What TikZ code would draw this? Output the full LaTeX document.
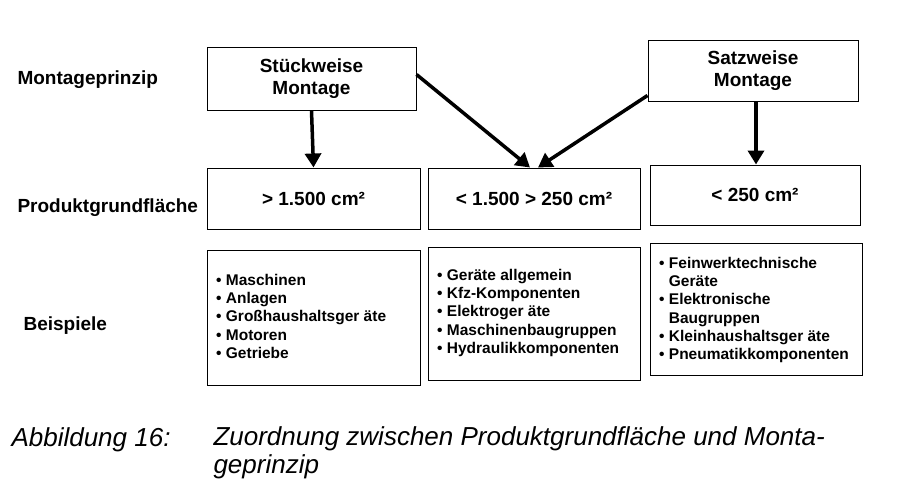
\documentclass[tikz,border=0pt]{standalone}
\usepackage{fontspec}
\setmainfont{Liberation Sans}
\usetikzlibrary{arrows.meta}
\begin{document}
\begin{tikzpicture}[x=1pt,y=-1pt,
 box/.style={draw,line width=1pt,align=center,font=\bfseries\fontsize{19}{22}\selectfont},
 lst/.style={anchor=north west,align=left,inner sep=0pt,font=\bfseries\fontsize{15.5}{18.2}\selectfont},
 lab/.style={anchor=west,font=\bfseries\fontsize{19}{22}\selectfont},
 arr/.style={line width=3.5pt,-{Triangle[length=14pt,width=16pt]}},
 captext/.style={anchor=west,font=\itshape\fontsize{26}{28}\selectfont}]
\fill[white] (0,0) rectangle (916,498);
\path[use as bounding box] (0,0) rectangle (916,498);
\node[box,minimum width=209pt,minimum height=63pt] (s) at (311.5,78.5) {Stückweise\\Montage};
\node[box,minimum width=210pt,minimum height=61pt] (z) at (753,70.5) {Satzweise\\Montage};
\node[box,minimum width=213pt,minimum height=61pt] (a) at (313.5,198.5) {> 1.500 cm²};
\node[box,minimum width=212pt,minimum height=61pt] (b) at (534,198.5) {< 1.500 > 250 cm²};
\node[box,minimum width=210pt,minimum height=60pt] (c) at (755,195) {< 250 cm²};
\draw[line width=1pt] (207,250) rectangle (420,385);
\draw[line width=1pt] (428,247) rectangle (640,380);
\draw[line width=1pt] (650,243) rectangle (862,375);
\node[lst] (l1) at (216,274) {• Maschinen\\• Anlagen\\• Großhaushaltsger äte\\• Motoren\\• Getriebe};
\node[lst] (l2) at (437,269) {• Geräte allgemein\\• Kfz-Komponenten\\• Elektroger äte\\• Maschinenbaugruppen\\• Hydraulikkomponenten};
\node[lst] (l3) at (659,257) {• Feinwerktechnische\\\phantom{• }Geräte\\• Elektronische\\\phantom{• }Baugruppen\\• Kleinhaushaltsger äte\\• Pneumatikkomponenten};
\node[lab] (m) at (14,80) {Montageprinzip};
\node[lab] (p) at (14,208) {Produktgrundfläche};
\node[lab] (e) at (20,326) {Beispiele};
\draw[arr] (s.south) -- (a.north);
\coordinate (s1) at ([yshift=-28pt]s.north east);
\draw[arr] (s1) -- ([xshift=-4pt]b.north);
\coordinate (z1) at ([yshift=6pt]z.south west);
\draw[arr] (z1) -- ([xshift=4pt]b.north);
\draw[arr] ([xshift=3pt]z.south) -- ([xshift=3pt]z.south |- c.north);
\node[captext] (f1) at (8,440) {Abbildung 16:};
\node[captext,align=left,anchor=north west] (f2) at (210,423) {Zuordnung zwischen Produktgrundfläche und Monta-\\geprinzip};
\end{tikzpicture}
\end{document}
